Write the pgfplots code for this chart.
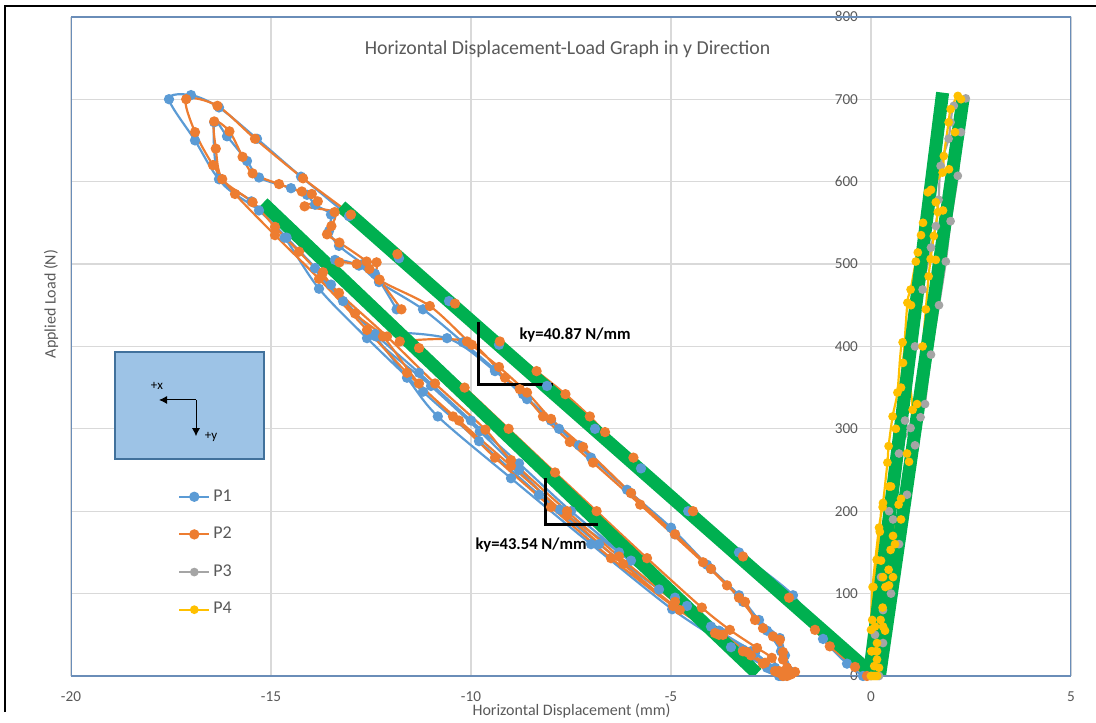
\documentclass[border=0pt]{standalone}
\usepackage{fontspec}
\setmainfont{Carlito}
\usepackage{pgfplots}
\pgfplotsset{compat=1.18}
\usetikzlibrary{arrows.meta}
\definecolor{cPa}{HTML}{5B9BD5}
\definecolor{cPb}{HTML}{ED7D31}
\definecolor{cPc}{HTML}{A5A5A5}
\definecolor{cPd}{HTML}{FFC000}
\definecolor{greenc}{HTML}{00B050}
\definecolor{gridgray}{HTML}{D9D9D9}
\definecolor{tickgray}{HTML}{595959}
\definecolor{frameblue}{HTML}{6A8DB8}
\definecolor{boxfill}{HTML}{9DC3E6}
\definecolor{boxdraw}{HTML}{41719C}
\begin{document}
\begin{tikzpicture}
\useasboundingbox (0,0) rectangle (548pt,361pt);
\draw[black, line width=1pt] (2.5pt,5pt) -- (2.5pt,358pt) -- (548pt,358pt);
\begin{axis}[
  at={(35.5pt,23pt)}, anchor=south west,
  scale only axis, width=500pt, height=329.6pt,
  xmin=-20, xmax=5, ymin=0, ymax=800,
  axis x line=bottom, axis y line=middle,
  axis line style={-},
  x axis line style={draw=frameblue, line width=0.7pt},
  y axis line style={draw=gridgray, line width=0.6pt},
  hide obscured x ticks=false, hide obscured y ticks=false,
  xtick={-20,-15,...,5}, ytick={0,100,...,800},
  major tick length=0pt,
  grid=major, grid style={draw=gridgray, line width=0.6pt},
  /pgf/number format/assume math mode=true,
  xticklabel style={font=\fontsize{7.6}{9}\selectfont, text=tickgray, yshift=-4.5pt},
  yticklabel style={font=\fontsize{7.6}{9}\selectfont, text=tickgray, xshift=-3pt},
  legend style={at={(axis cs:-17.33,230.5)}, anchor=north west, draw=none, fill=none,
    font=\fontsize{9}{10}\selectfont, text=tickgray, row sep=8.5pt, inner sep=0pt,
    nodes={inner sep=1.5pt}},
  legend cell align=left,
  legend image code/.code={\draw[mark repeat=2, mark phase=2, #1] plot coordinates {(0pt,0pt) (7.5pt,0pt) (15pt,0pt)};},
]
\addplot[color=cPa, line width=1.1pt, smooth, mark=*, mark size=2pt, mark options={solid, fill=cPa}] coordinates {
(-0.2,0) (-0.6,15) (-1.2,45) (-1.95,98) (-3.3,150) (-4.57,200) (-5.75,252) (-6.9,300) (-8.1,352) (-9.3,402) (-10.55,455) (-11.8,507) (-13.05,558) (-14.25,606) (-15.35,652) (-16.3,690) (-17.0,705) (-17.55,700)
(-16.9,650) (-16.3,603) (-15.49,576) (-14.61,532) (-13.5,475) (-12.41,413) (-11.6,362) (-10.83,315) (-9.0,240) (-7.0,160) (-4.97,81) (-3.5,35) (-2.5,8) (-2.2,0)
(-2.4,10) (-3.0,30) (-3.8,55) (-4.9,95) (-6.3,150) (-7.78,202) (-8.8,250) (-9.78,297) (-11.0,352) (-12.37,412) (-10.6,410) (-9.4,370) (-8.6,336) (-7.8,300) (-7.0,265) (-6.0,222) (-5.0,180) (-4.1,135) (-3.3,98) (-2.8,68) (-2.28,46) (-2.15,25) (-2.0,5) (-2.25,0)
(-2.4,8) (-2.9,28) (-3.7,52) (-4.6,85) (-6.0,140) (-7.5,200) (-8.8,258) (-10.0,310) (-11.3,368) (-12.4,415) (-13.2,455) (-13.9,495) (-13.4,505) (-12.8,498) (-12.3,478) (-11.2,445) (-10.2,405) (-9.4,372) (-8.7,342) (-8.0,310) (-7.3,280) (-6.1,226) (-4.9,172) (-4.0,130) (-3.2,90) (-2.6,55) (-2.25,30) (-2.05,6) (-2.3,0)
(-2.6,10) (-3.2,32) (-4.0,60) (-5.3,105) (-6.8,160) (-8.3,220) (-9.8,285) (-11.2,345) (-12.6,410) (-13.8,470) (-14.66,532) (-15.3,565) (-16.29,603) (-16.42,672) (-16.1,655) (-15.6,625) (-15.3,605) (-14.5,592) (-14.1,584) (-13.9,572) (-13.5,560) (-13.55,540) (-13.3,522) (-12.7,500) (-12.4,488) (-11.86,445)
};
\addlegendentry{P1}
\addplot[color=cPb, line width=1.1pt, smooth, mark=*, mark size=2pt, mark options={solid, fill=cPb}] coordinates {
(-0.1,0) (-0.4,11) (-1.03,36) (-1.4,56) (-2.05,95) (-3.2,145) (-4.45,200) (-5.94,265) (-6.65,296) (-7.03,315) (-7.64,342) (-8.36,370) (-9.28,406) (-10.4,452) (-11.84,512) (-13.0,560) (-14.2,604) (-15.4,652) (-16.34,692) (-17.12,700)
(-16.9,660) (-16.45,620) (-15.9,585) (-14.9,535) (-13.8,482) (-12.6,420) (-11.6,368) (-10.45,315) (-9.4,265) (-8.0,205) (-6.5,143) (-4.95,85) (-3.9,52) (-3.2,30) (-2.7,15) (-2.35,5) (-2.1,0)
(-2.3,6) (-2.48,22) (-2.85,34) (-3.53,56) (-4.23,83) (-5.6,143) (-6.86,200) (-7.9,247) (-9.06,300) (-10.16,350) (-11.3,398) (-11.78,406) (-10.1,406) (-9.15,362) (-8.78,348) (-8.2,315) (-7.53,284) (-6.95,259) (-5.77,208) (-4.2,138) (-3.6,110) (-3.15,90) (-2.9,68) (-2.45,48) (-2.2,29) (-2.1,10) (-2.0,2)
(-2.3,4) (-2.65,16) (-3.1,29) (-3.8,50) (-4.78,80) (-6.2,136) (-7.6,195) (-9.0,255) (-10.3,310) (-11.3,355) (-12.2,412) (-12.9,440) (-13.7,490) (-13.29,502) (-12.86,500) (-12.36,502) (-12.29,481) (-11.03,449) (-9.98,402) (-9.3,375) (-8.6,344) (-8.0,312) (-7.2,278) (-6.0,222) (-4.9,172) (-4.0,130) (-3.3,95) (-2.7,58) (-2.28,44) (-2.2,20) (-1.9,5) (-2.2,0)
(-2.4,6) (-3.0,25) (-3.7,50) (-4.9,90) (-6.3,145) (-7.6,200) (-9.0,262) (-9.64,299) (-10.9,355) (-12.1,412) (-13.3,465) (-14.3,515) (-14.9,545) (-15.46,575)
(-16.22,603) (-16.38,640) (-16.42,673) (-16.04,661) (-15.71,630) (-15.46,610) (-14.8,597) (-14.23,588) (-13.98,585) (-13.83,576) (-14.16,570) (-13.41,563) (-13.49,546) (-13.6,536) (-13.29,526) (-12.61,503) (-12.54,494) (-12.29,481) (-11.74,445)
};
\addlegendentry{P2}
\addplot[color=cPc, line width=1.1pt, smooth, mark=*, mark size=1.6pt, mark options={solid, fill=cPc}] coordinates {
(0,0) (0.1,50) (0.25,120) (0.45,200) (0.7,270) (0.99,301) (1.24,314) (1.1,280) (0.9,220) (0.7,160) (0.5,100) (0.3,40) (0.2,0)
(0.3,80) (0.55,190) (0.85,310) (1.1,400) (1.29,469) (1.5,520) (1.62,546) (1.69,578) (1.74,619) (1.94,652) (1.99,672) (2.07,692) (2.37,701)
(2.25,660) (2.17,607) (1.99,552) (1.87,503) (1.7,450) (1.5,390) (1.35,330)
};
\addlegendentry{P3}
\addplot[color=cPd, line width=1.1pt, smooth, mark=*, mark size=1.6pt, mark options={solid, fill=cPd}] coordinates {
(0,0) (0.01,30) (0.03,68) (0.06,108) (0.14,141) (0.22,175) (0.29,205) (0.69,208) (0.55,170) (0.49,153) (0.44,129) (0.36,108) (0.29,83) (0.24,68) (0.15,40) (0.08,12) (0.05,0)
(0.02,30) (0.0,56) (0.04,108) (0.2,180) (0.3,210) (0.41,259) (0.44,279) (0.54,315) (0.66,344) (0.79,405) (1.04,323) (0.9,270) (0.75,215) (0.6,160) (0.45,110) (0.3,60) (0.15,20) (0.1,0)
(0.12,30) (0.1,60) (0.25,140) (0.45,230) (0.62,300) (0.8,380) (0.91,453) (0.99,469) (1.12,503) (1.17,514) (1.3,550) (1.42,587) (1.62,575) (1.67,563) (1.57,534) (1.49,506) (1.44,485) (1.37,445) (1.29,400) (1.15,330) (0.95,260) (0.75,190) (0.55,120) (0.35,55) (0.2,10) (0.15,0)
(0.15,30) (0.3,120) (0.5,230) (0.75,350) (1.0,450) (1.25,535) (1.5,590) (1.79,611) (1.82,631) (1.94,672) (1.99,688) (2.17,704) (2.25,700) (2.1,660) (1.95,615) (1.8,565) (1.62,505)
};
\addlegendentry{P4}
% fitted stiffness lines
\addplot[forget plot, draw=greenc, line width=6.5pt, mark=none] coordinates {(-15.2,574) (-2.85,3)};
\addplot[forget plot, draw=greenc, line width=6.5pt, mark=none] coordinates {(-13.25,570) (-0.1,8)};
\addplot[forget plot, draw=greenc, line width=6.5pt, mark=none] coordinates {(-0.05,-2) (1.79,708)};
\addplot[forget plot, draw=greenc, line width=6.5pt, mark=none] coordinates {(0.2,-4) (2.3,700)};
% slope triangles
\draw[black, line width=1.5pt] (axis cs:-9.825,430) -- (axis cs:-9.825,353.2) -- (axis cs:-7.95,353.2);
\draw[black, line width=1.5pt] (axis cs:-8.15,240.3) -- (axis cs:-8.15,183.3) -- (axis cs:-6.825,183.3);
\node[font=\bfseries\fontsize{8.3}{10}\selectfont, text=black] at (axis cs:-7.4,414) {ky=40.87 N/mm};
\node[font=\bfseries\fontsize{8.3}{10}\selectfont, text=black] at (axis cs:-8.5,159) {ky=43.54 N/mm};
% direction inset
\draw[draw=boxdraw, fill=boxfill, line width=0.6pt] (axis cs:-18.9,393.3) rectangle (axis cs:-15.175,263.4);
\draw[black, line width=0.5pt, -{Latex[length=4pt,width=4pt]}] (axis cs:-16.875,335) -- (axis cs:-17.8,335);
\draw[black, line width=0.5pt, -{Latex[length=4pt,width=4pt]}] (axis cs:-16.875,335) -- (axis cs:-16.875,291);
\node[font=\fontsize{6.5}{7}\selectfont, text=black] at (axis cs:-17.85,352) {+x};
\node[font=\fontsize{6.5}{7}\selectfont, text=black] at (axis cs:-16.5,290) {+y};
\draw[frameblue, line width=0.7pt] (rel axis cs:0,0) rectangle (rel axis cs:1,1);
\end{axis}
\node[font=\fontsize{9.9}{12}\selectfont, text=tickgray] at (283.75pt,336.5pt) {Horizontal Displacement-Load Graph in y Direction};
\node[font=\fontsize{8}{9}\selectfont, text=tickgray] at (285.75pt,5.5pt) {Horizontal Displacement (mm)};
\node[font=\fontsize{8}{9}\selectfont, text=tickgray, rotate=90] at (25.5pt,209pt) {Applied Load (N)};
\end{tikzpicture}
\end{document}
